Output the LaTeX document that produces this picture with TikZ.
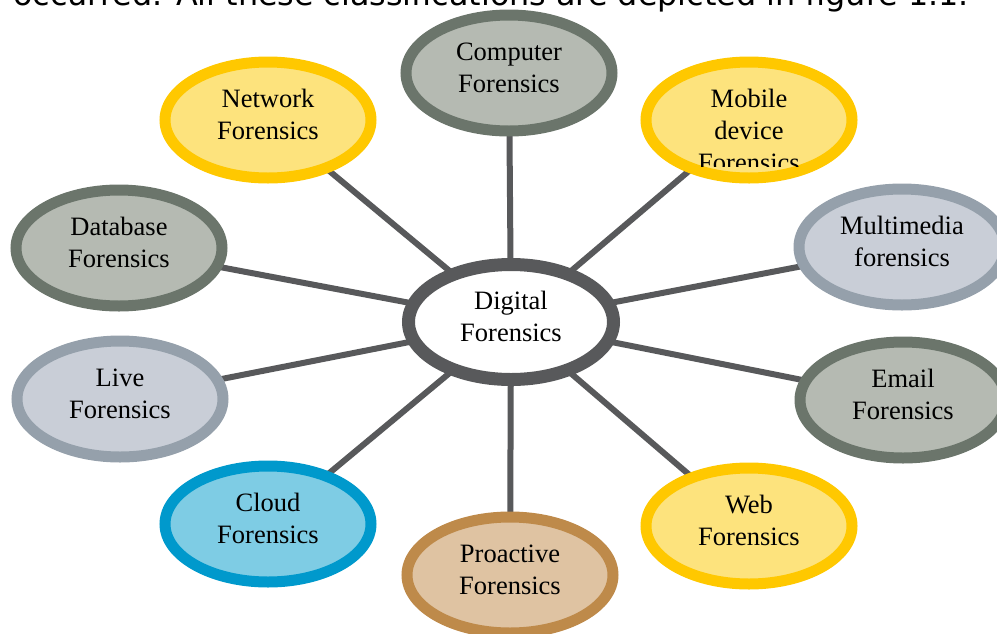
\documentclass[tikz,border=0pt]{standalone}
\usepackage{fontspec}
\setmainfont{Liberation Serif}
\newfontfamily\capfont{DejaVu Sans}
\usetikzlibrary{shapes.geometric,backgrounds}

\definecolor{grayfill}{HTML}{B5BAB2}
\definecolor{grayring}{HTML}{6B756B}
\definecolor{yelfill}{HTML}{FDE37D}
\definecolor{yelring}{HTML}{FFC800}
\definecolor{bluefill}{HTML}{C9CED7}
\definecolor{bluering}{HTML}{95A0AB}
\definecolor{cloudfill}{HTML}{7ECCE4}
\definecolor{cloudring}{HTML}{0099CC}
\definecolor{profill}{HTML}{DFC3A2}
\definecolor{proring}{HTML}{BE8A4A}
\definecolor{spokecol}{HTML}{58595B}

\tikzset{
  forensic/.style={ellipse, line width=11pt, minimum width=206pt, minimum height=116pt,
    inner sep=0pt, align=center, font=\fontsize{26.5}{32}\selectfont, text depth=11pt},
  grayf/.style={forensic, draw=grayring, fill=grayfill},
  yelf/.style={forensic, draw=yelring, fill=yelfill},
  bluef/.style={forensic, draw=bluering, fill=bluefill},
  cloudf/.style={forensic, draw=cloudring, fill=cloudfill},
  prof/.style={forensic, draw=proring, fill=profill},
  spoke/.style={line width=6pt, spokecol}
}

\begin{document}
\begin{tikzpicture}[x=1pt,y=-1pt]
        \useasboundingbox (0,0) rectangle (997,633);
        \clip (0,0) rectangle (997,633);

        % caption line of the page, cut off at the top
        \node[anchor=base west, inner sep=0pt, font=\capfont\fontsize{31.8}{34}\selectfont] (cap) at (13,5)
          {occurred. All these classifications are depicted in figure 1.1.};

        % hub
        \node[forensic, draw=spokecol, fill=white, line width=13pt, minimum width=205pt, minimum height=115pt] (dig) at (511,322) {Digital\\Forensics};

        % outer ring of classifications
        \node[grayf]  (comp)  at (509,73)  {Computer\\Forensics};
        \node[yelf]   (net)   at (268,120) {Network\\Forensics};
        \node[yelf]   (mob)   at (749,120) {};
        \node[grayf]  (db)    at (119,248) {Database\\Forensics};
        \node[bluef]  (mm)    at (902,247) {Multimedia\\forensics};
        \node[bluef]  (live)  at (120,399) {Live\\Forensics};
        \node[grayf]  (mail)  at (903,400) {Email\\Forensics};
        \node[cloudf] (cloud) at (268,524) {Cloud\\Forensics};
        \node[yelf]   (web)   at (749,526) {Web\\Forensics};
        \node[prof]   (pro)   at (510,575) {Proactive\\Forensics};

        % text of the mobile node, its last line is cut
        \begin{scope}
          \clip (640,60) rectangle (860,166);
          \node[align=center, inner sep=0pt, font=\fontsize{26.5}{32}\selectfont] (mobtxt) at (749,130) {Mobile\\device\\Forensics};
        \end{scope}

        % spokes from the hub, behind the ellipses
        \begin{scope}[on background layer]
          \foreach \n in {comp,net,mob,db,mm,live,mail,cloud,web,pro}
            \draw[spoke] (dig.center) -- (\n.center);
        \end{scope}
\end{tikzpicture}
\end{document}
